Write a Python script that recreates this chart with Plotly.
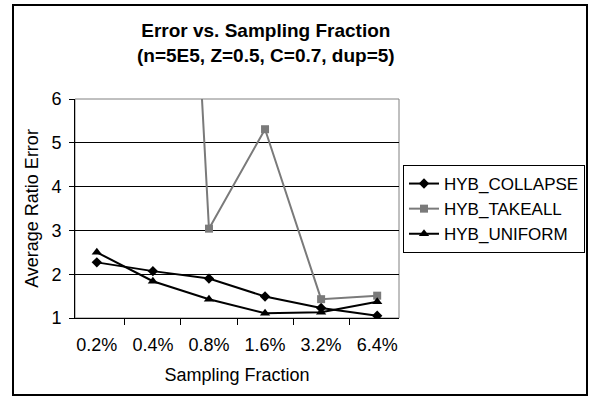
import plotly.graph_objects as go

categories = ["0.2%", "0.4%", "0.8%", "1.6%", "3.2%", "6.4%"]
hyb_collapse = [2.27, 2.07, 1.90, 1.49, 1.23, 1.05]
hyb_takeall = [None, 26.8, 3.04, 5.31, 1.43, 1.51]
hyb_uniform = [2.50, 1.84, 1.43, 1.11, 1.13, 1.37]
y_ticks = [1, 2, 3, 4, 5, 6]

FONT = "Liberation Sans, Arial, sans-serif"

# plot area in pixels
W, H = 590, 399
L, R, T, B = 75, 399, 99, 318
pw, ph = R - L, B - T


def px(x):
    return (x - L) / pw


def py(y):
    return (B - y) / ph


fig = go.Figure()
fig.add_trace(go.Scatter(
    x=categories, y=hyb_collapse, name="HYB_COLLAPSE", mode="lines+markers",
    line=dict(color="#000000", width=2),
    marker=dict(symbol="diamond", size=8, color="#000000")))
fig.add_trace(go.Scatter(
    x=categories, y=hyb_takeall, name="HYB_TAKEALL", mode="lines+markers",
    line=dict(color="#7a7a7a", width=2),
    marker=dict(symbol="square", size=8, color="#7a7a7a")))
fig.add_trace(go.Scatter(
    x=categories, y=hyb_uniform, name="HYB_UNIFORM", mode="lines+markers",
    line=dict(color="#000000", width=2),
    marker=dict(symbol="triangle-up", size=9, color="#000000")))

fig.update_layout(
    width=W, height=H,
    margin=dict(l=L, r=W - R, t=T, b=H - B, pad=0, autoexpand=False),
    paper_bgcolor="white", plot_bgcolor="white",
    font=dict(family=FONT, size=18, color="black"),
    showlegend=True,
    legend=dict(x=px(585), y=py(209), xanchor="right", yanchor="middle",
                bordercolor="black", borderwidth=1, bgcolor="white",
                font=dict(size=17), tracegroupgap=0, itemwidth=30),
    xaxis=dict(type="category", categoryorder="array", categoryarray=categories,
               tickson="boundaries", ticks="outside", ticklen=6, tickcolor="black",
               showline=True, linecolor="black", linewidth=1, showgrid=False,
               zeroline=False, tickfont=dict(size=18), ticklabelstandoff=10,
               automargin=False,
               title=dict(text="Sampling Fraction", font=dict(size=18), standoff=14)),
    yaxis=dict(range=[1, 6], tickvals=y_ticks, ticks="outside", ticklen=5,
               tickcolor="black", showline=True, linecolor="black", linewidth=1,
               showgrid=True, gridcolor="black", gridwidth=1, zeroline=False,
               tickfont=dict(size=18), ticklabelstandoff=4, automargin=False,
               title=dict(text="Average Ratio Error", font=dict(size=18), standoff=8)),
    shapes=[
        dict(type="rect", xref="paper", yref="paper", x0=0, x1=1, y0=0, y1=1,
             line=dict(color="#808080", width=1), layer="below"),
        dict(type="rect", xref="paper", yref="paper",
             x0=px(13), x1=px(587), y0=py(395), y1=py(5),
             line=dict(color="black", width=2)),
    ],
    annotations=[
        dict(text="<b>Error vs. Sampling Fraction</b><br><b>(n=5E5, Z=0.5, C=0.7, dup=5)</b>",
             xref="paper", yref="paper", x=px(266), y=py(43), xanchor="center",
             yanchor="middle", showarrow=False, font=dict(size=19, family=FONT)),
    ],
)

fig.write_html("out.html")
